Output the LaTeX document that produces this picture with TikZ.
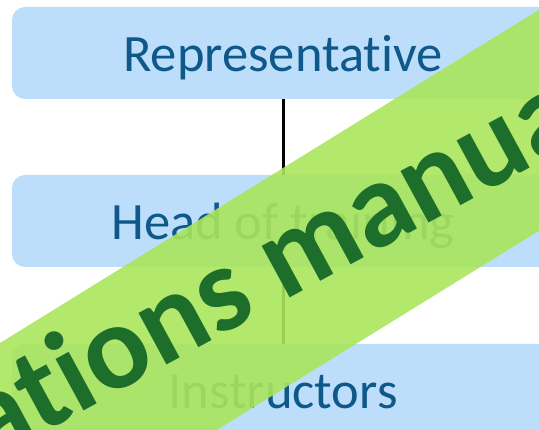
\documentclass[tikz,border=0pt]{standalone}
\usepackage{fontspec}
\setmainfont{Carlito}[Ligatures=NoCommon]
\definecolor{boxblue}{RGB}{189,222,251}
\definecolor{textblue}{RGB}{14,88,138}
\definecolor{bannergreen}{RGB}{170,229,92}
\definecolor{wmgreen}{RGB}{28,110,42}
\tikzset{
  orgbox/.style={fill=boxblue, draw=none, rounded corners=13pt,
    minimum width=542pt, minimum height=92pt, inner sep=0pt,
    text height=48pt, text depth=11pt, text=textblue,
    font=\fontsize{52.5}{56}\selectfont},
  conn/.style={draw=black, line width=3pt},
  banner/.style={fill=bannergreen, fill opacity=0.9},
  wmtext/.style={text=wmgreen, inner sep=0pt,
    font=\fontsize{121}{126}\selectfont\bfseries}
}
\begin{document}
\begin{tikzpicture}[x=1pt,y=1pt]
\useasboundingbox (0,0) rectangle (539,430);
\clip (0,0) rectangle (539,430);
\node[orgbox] (b1) at (283,377) {Representative};
\node[orgbox] (b2) at (283,209) {Head of training};
\node[orgbox] (b3) at (283,40) {Instructors};
\draw[conn] (b1.south) -- (b2.north);
\draw[conn] (b2.south) -- (b3.north);
\fill[banner] (-50,56) -- (600,458) -- (600,237) -- (-50,-165) -- cycle;
\node[wmtext, rotate=28.5, anchor=base west] (wm) at (-229.5,-150.5) {Operations manual};
\end{tikzpicture}
\end{document}
